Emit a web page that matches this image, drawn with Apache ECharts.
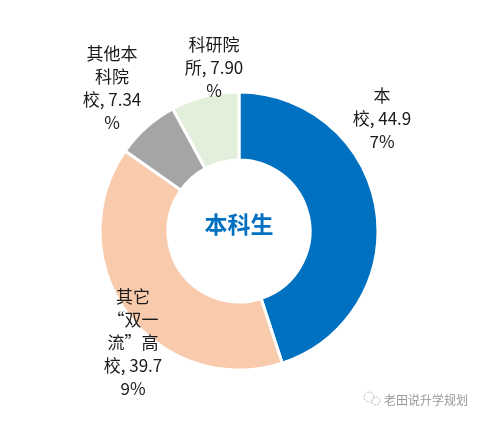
<!DOCTYPE html>
<html>
<head>
<meta charset="utf-8">
<script src="https://cdn.jsdelivr.net/npm/echarts@6/dist/echarts.min.js"></script>
<style>
html,body{margin:0;padding:0;background:#fff;}
#chart{width:480px;height:422px;}
</style>
</head>
<body>
<div id="chart"></div>
<script>
var categories = ['本校', '其它“双一流”高校', '其他本科院校', '科研院所'];
var values = [44.97, 39.79, 7.34, 7.90];
var labelTexts = [
  '本\n校, 44.9\n7%',
  '其它\n“双一\n流”高\n校, 39.7\n9%',
  '其他本\n科院\n校, 7.34\n%',
  '科研院\n所, 7.90\n%'
];
var colors = ['#0070C0', '#F8CBAD', '#A5A5A5', '#E2EFDA'];
var labelPos = [[382, 119], [133, 343], [112, 88], [214, 68]];
var centerTitle = '本科生';
var watermark = '老田说升学规划';

var chart = echarts.init(document.getElementById('chart'));
var data = categories.map(function (c, i) {
  return { name: c, value: values[i], itemStyle: { color: colors[i] } };
});
chart.setOption({
  animation: false,
  series: [{
    type: 'pie',
    center: [239, 231],
    radius: [71, 139],
    startAngle: 90,
    clockwise: true,
    data: data,
    itemStyle: { borderColor: '#ffffff', borderWidth: 3 },
    label: {
      show: true,
      position: 'outside',
      formatter: function (p) { return labelTexts[p.dataIndex]; },
      fontFamily: 'Noto Sans CJK SC',
      fontSize: 17,
      lineHeight: 23,
      color: '#1a1a1a',
      align: 'center',
      overflow: 'none',
      width: 120
    },
    labelLine: { show: false },
    labelLayout: function (p) {
      var pos = labelPos[p.dataIndex];
      return { x: pos[0], y: pos[1], align: 'center', verticalAlign: 'middle' };
    },
    emphasis: { disabled: true }
  }],
  graphic: [
    {
      type: 'text',
      x: 239, y: 224,
      style: {
        text: centerTitle,
        fontFamily: 'Noto Sans CJK SC',
        fontSize: 23,
        fontWeight: 'bold',
        fill: '#0070C0',
        align: 'center',
        verticalAlign: 'middle'
      }
    },
    {
      type: 'circle',
      shape: { cx: 369, cy: 397, r: 5 },
      style: { fill: 'none', stroke: '#bbb', lineWidth: 1, lineDash: [2, 1] }
    },
    {
      type: 'circle',
      shape: { cx: 376, cy: 401, r: 4 },
      style: { fill: 'none', stroke: '#bbb', lineWidth: 1, lineDash: [2, 1] }
    },
    {
      type: 'text',
      x: 384, y: 400,
      style: {
        text: watermark,
        fontFamily: 'Noto Sans CJK SC',
        fontSize: 12,
        fill: '#999',
        align: 'left',
        verticalAlign: 'middle'
      }
    }
  ]
});
</script>
</body>
</html>
